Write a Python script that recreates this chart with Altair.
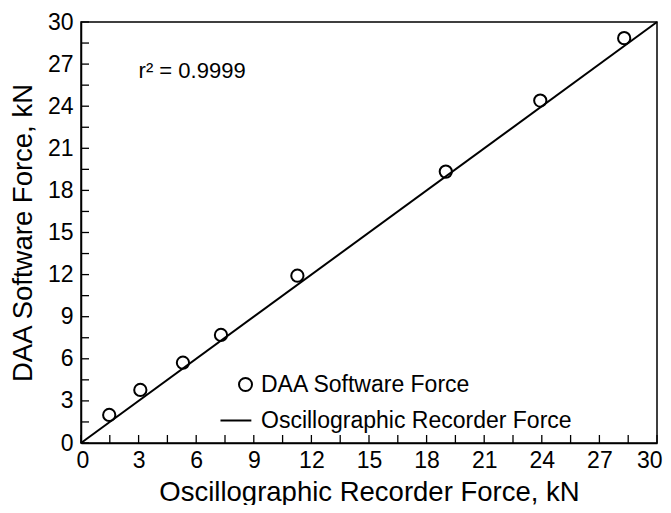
import altair as alt
import pandas as pd

daa_x = [1.47, 3.09, 5.31, 7.29, 11.27, 19.0, 23.92, 28.29]
daa_y = [2.0, 3.78, 5.72, 7.70, 11.92, 19.34, 24.4, 28.85]
line_x = [0, 30]
line_y = [0, 30]
axis_values = [0, 3, 6, 9, 12, 15, 18, 21, 24, 27, 30]
minor_ticks = [i * 1.5 for i in range(21)]
series_names = ["DAA Software Force", "Oscillographic Recorder Force"]
r2_text = ["r² = 0.9999"]
r2_x = [3.0]
r2_y = [26.0]

FONT = "Liberation Sans"
W, H = 576, 421

pts = pd.DataFrame({"x": daa_x, "y": daa_y, "series": series_names[0]})
ln = pd.DataFrame({"x": line_x, "y": line_y})
ticks = pd.DataFrame({"v": minor_ticks})
ann = pd.DataFrame({"x": r2_x, "y": r2_y, "t": r2_text})

xscale = alt.Scale(domain=[0, 30], nice=False, zero=True)
yscale = alt.Scale(domain=[0, 30], nice=False, zero=True)

xaxis = alt.Axis(values=axis_values, tickSize=0, labelPadding=6, labelFontSize=23,
                 labelFont=FONT, labelColor="black", title="Oscillographic Recorder Force, kN",
                 titleFont=FONT, titleFontSize=27.5, titleFontWeight="normal", titleColor="black",
                 titlePadding=6, domainColor="black", domainWidth=1.5, grid=False,
                 labelFlush=True, labelFlushOffset=5, labelOverlap=False)
yaxis = alt.Axis(values=axis_values, tickSize=0, labelPadding=8, labelFontSize=23,
                 labelFont=FONT, labelColor="black", title="DAA Software Force, kN",
                 titleFont=FONT, titleFontSize=27.5, titleFontWeight="normal", titleColor="black",
                 titlePadding=10, domainColor="black", domainWidth=1.5, grid=False,
                 labelFlush=False, labelOverlap=False)

points = alt.Chart(pts).mark_point(filled=False, color="black", strokeWidth=2, size=150, opacity=1).encode(
    x=alt.X("x:Q", scale=xscale, axis=xaxis),
    y=alt.Y("y:Q", scale=yscale, axis=yaxis),
    shape=alt.Shape(
        "series:N",
        scale=alt.Scale(domain=series_names, range=["circle", "M-3.85,0L0.9,0"]),
        legend=alt.Legend(
            title=None, orient="none", legendX=153, legendY=351,
            labelFont=FONT, labelFontSize=23, labelColor="black", labelOffset=4,
            labelLimit=0,
            symbolSize=169, symbolStrokeWidth=2, symbolStrokeColor="black",
            symbolFillColor="transparent", rowPadding=12, padding=0,
        ),
    ),
)

line = alt.Chart(ln).mark_line(color="black", strokeWidth=2).encode(
    x=alt.X("x:Q", scale=xscale),
    y=alt.Y("y:Q", scale=yscale),
)

xticks = alt.Chart(ticks).mark_rule(color="black", strokeWidth=1.3).encode(
    x=alt.X("v:Q", scale=xscale),
    y=alt.value(H),
    y2=alt.value(H - 8),
)
yticks = alt.Chart(ticks).mark_rule(color="black", strokeWidth=1.3).encode(
    y=alt.Y("v:Q", scale=yscale),
    x=alt.value(0),
    x2=alt.value(8),
)

text = alt.Chart(ann).mark_text(font=FONT, fontSize=22, align="left", baseline="alphabetic",
                                color="black").encode(
    x=alt.X("x:Q", scale=xscale),
    y=alt.Y("y:Q", scale=yscale),
    text="t:N",
)

chart = alt.layer(line, xticks, yticks, points, text).properties(
    width=W, height=H,
    autosize=alt.AutoSizeParams(type="none"),
    padding={"left": 73, "top": 14, "right": 6, "bottom": 62},
    background="white",
).configure_view(stroke="black", strokeWidth=1.5)

chart.save("out.html", embed_options={"renderer": "svg", "actions": False})
